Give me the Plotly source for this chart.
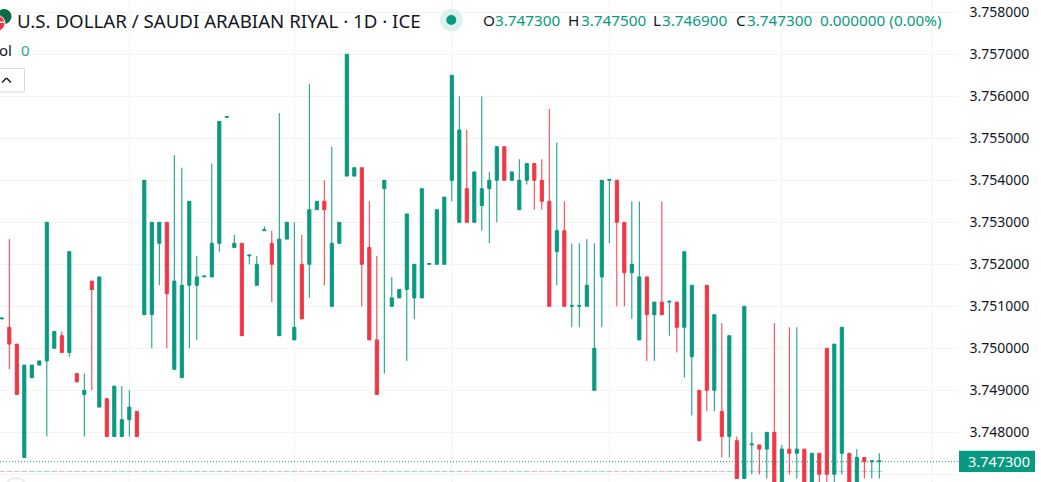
import plotly.graph_objects as go

W, H = 1041, 482
GREEN = "#089981"
RED = "#F23645"
GRID = "#f3f3f3"
TEXT = "#131722"

# daily bars
opens = [3.7507, 3.7505, 3.7501, 3.7474, 3.7493, 3.7496, 3.7497, 3.7500, 3.7503, 3.7499,
         3.7494, 3.7489, 3.7516, 3.7486, 3.7488, 3.7479, 3.7479, 3.7483, 3.7485, 3.7508,
         3.7508, 3.7525, 3.7530, 3.7495, 3.7493, 3.7515, 3.7515, 3.7517, 3.7517, 3.7525,
         3.7555, 3.7524, 3.7525, 3.7522, 3.7515, 3.7528, 3.7525, 3.7503, 3.7526, 3.7502,
         3.7520, 3.7520, 3.7533, 3.7535, 3.7510, 3.7525, 3.7541, 3.7541, 3.7543, 3.7524,
         3.7502, 3.7538, 3.7510, 3.7512, 3.7514, 3.7512, 3.7512, 3.7520, 3.7520, 3.7520,
         3.7540, 3.7530, 3.7538, 3.7530, 3.7534, 3.7538, 3.7540, 3.7548, 3.7540, 3.7533,
         3.7540, 3.7544, 3.7540, 3.7535, 3.7523, 3.7528, 3.7510, 3.7510, 3.7510, 3.7490,
         3.7517, 3.7540, 3.7540, 3.7530, 3.7518, 3.7502, 3.7517, 3.7508, 3.7511, 3.7511,
         3.7511, 3.7505, 3.7498, 3.7490, 3.7515, 3.7490, 3.7485, 3.7479, 3.7478, 3.7469,
         3.7477, 3.7477, 3.7476, 3.7480, 3.7468, 3.7476, 3.7475, 3.7476, 3.7468, 3.7475,
         3.7500, 3.7470, 3.7475, 3.7475, 3.7468, 3.7474, 3.7473, 3.7473]
highs = [3.75072, 3.7526, 3.7501, 3.7496, 3.7496, 3.7497, 3.7530, 3.7504, 3.7504, 3.7523,
         3.7494, 3.7494, 3.7516, 3.7517, 3.7488, 3.7491, 3.7491, 3.7490, 3.7485, 3.7540,
         3.7530, 3.7530, 3.7530, 3.7546, 3.7543, 3.7535, 3.7522, 3.75172, 3.7544, 3.7554,
         3.75552, 3.7527, 3.7525, 3.75222, 3.7522, 3.7529, 3.7528, 3.7556, 3.7530, 3.7530,
         3.7527, 3.7563, 3.7535, 3.7540, 3.7548, 3.7530, 3.7570, 3.7543, 3.7543, 3.7535,
         3.7522, 3.7540, 3.7517, 3.7514, 3.7532, 3.7520, 3.7538, 3.75202, 3.7533, 3.7536,
         3.7565, 3.7560, 3.7552, 3.7542, 3.7560, 3.7542, 3.7548, 3.7548, 3.7542, 3.7545,
         3.7544, 3.7544, 3.7545, 3.7557, 3.7549, 3.7535, 3.7525, 3.7525, 3.7526, 3.7525,
         3.7540, 3.75402, 3.7540, 3.7530, 3.7535, 3.7535, 3.7517, 3.7511, 3.7535, 3.75112,
         3.7511, 3.7523, 3.7515, 3.7490, 3.7515, 3.7508, 3.7506, 3.7503, 3.7479, 3.7510,
         3.7480, 3.7477, 3.7480, 3.7506, 3.7477, 3.7505, 3.7505, 3.7476, 3.7475, 3.7475,
         3.7500, 3.7501, 3.7505, 3.7475, 3.7476, 3.7474, 3.74732, 3.7475]
lows = [3.7507, 3.7495, 3.7489, 3.7474, 3.7493, 3.7496, 3.7479, 3.7500, 3.7499, 3.7498,
        3.7492, 3.7479, 3.7490, 3.7486, 3.7479, 3.7479, 3.7479, 3.7479, 3.7479, 3.7508,
        3.7500, 3.7515, 3.7500, 3.7495, 3.7493, 3.7500, 3.7502, 3.7517, 3.7517, 3.7523,
        3.7555, 3.7524, 3.7503, 3.7520, 3.7515, 3.7528, 3.7511, 3.7503, 3.7526, 3.7502,
        3.7507, 3.7512, 3.7533, 3.7515, 3.7510, 3.7525, 3.7541, 3.7541, 3.7510, 3.7502,
        3.7489, 3.7494, 3.7510, 3.7512, 3.7497, 3.7507, 3.7512, 3.7520, 3.7520, 3.7520,
        3.7535, 3.7530, 3.7530, 3.7530, 3.7528, 3.7525, 3.7530, 3.7540, 3.7540, 3.7533,
        3.7539, 3.7533, 3.7533, 3.7510, 3.7515, 3.7510, 3.7505, 3.7505, 3.7510, 3.7490,
        3.7505, 3.7525, 3.7510, 3.7510, 3.7507, 3.7502, 3.7497, 3.7497, 3.7508, 3.7503,
        3.7499, 3.7493, 3.7484, 3.7478, 3.7485, 3.7485, 3.7474, 3.7474, 3.7469, 3.7469,
        3.7470, 3.7470, 3.7469, 3.7468, 3.7468, 3.7470, 3.7469, 3.7468, 3.7468, 3.7468,
        3.7468, 3.7468, 3.7470, 3.7468, 3.7468, 3.7469, 3.7469, 3.7469]
closes = [3.75072, 3.7501, 3.7489, 3.7496, 3.7496, 3.7497, 3.7530, 3.7504, 3.7499, 3.7523,
          3.7492, 3.7490, 3.7514, 3.7517, 3.7479, 3.7491, 3.7483, 3.7486, 3.7479, 3.7540,
          3.7530, 3.7530, 3.7513, 3.7516, 3.7515, 3.7535, 3.7517, 3.75172, 3.7525, 3.7554,
          3.75552, 3.7525, 3.7503, 3.75222, 3.7520, 3.75282, 3.7520, 3.7526, 3.7530, 3.7505,
          3.7507, 3.7533, 3.7535, 3.7533, 3.7525, 3.7530, 3.7570, 3.7543, 3.7520, 3.7502,
          3.7489, 3.7540, 3.7512, 3.7514, 3.7532, 3.7520, 3.7538, 3.75202, 3.7533, 3.7536,
          3.7565, 3.7552, 3.7530, 3.7542, 3.7538, 3.7540, 3.7548, 3.7540, 3.7542, 3.7540,
          3.7544, 3.7540, 3.7535, 3.7510, 3.7528, 3.7510, 3.75102, 3.75102, 3.7515, 3.7500,
          3.7540, 3.75402, 3.7530, 3.7518, 3.7520, 3.7517, 3.7508, 3.7511, 3.7508, 3.75112,
          3.7505, 3.7523, 3.7515, 3.7478, 3.7490, 3.7508, 3.7479, 3.7503, 3.7469, 3.7510,
          3.74772, 3.7476, 3.7480, 3.7468, 3.7476, 3.7475, 3.7476, 3.7468, 3.7475, 3.7470,
          3.7470, 3.7501, 3.7505, 3.7468, 3.7474, 3.7473, 3.74732, 3.74732]

price_ticks = [3.758, 3.757, 3.756, 3.755, 3.754, 3.753, 3.752, 3.751, 3.750, 3.749, 3.748, 3.747]
time_grid = [17, 39, 60, 81, 104, 124]
last_price = 3.7473
volume_level = 3.74707
volumes_y = [volume_level] * len(opens)

header_parts = [
    ("O", 483, TEXT), ("3.747300", 495.5, GREEN),
    ("H", 568.5, TEXT), ("3.747500", 581, GREEN),
    ("L", 653, TEXT), ("3.746900", 662.5, GREEN),
    ("C", 736, TEXT), ("3.747300", 747, GREEN),
    ("0.000000 (0.00%)", 820, GREEN),
]


def px(x):
    return x / W


def py(y):
    return 1 - y / H


def note(text, x, y, color=TEXT, size=14, anchor="left"):
    return dict(text=text, x=px(x), y=py(y), xref="paper", yref="paper", xanchor=anchor,
                yanchor="middle", showarrow=False, align="left",
                xshift=-2.5 if anchor == "left" else 2.5,
                font=dict(family="Noto Sans", size=size, color=color))


def box(x0, y0, x1, y1, **kw):
    return dict(x0=px(x0), x1=px(x1), y0=py(y0), y1=py(y1), xref="paper", yref="paper", **kw)


bar_x = list(range(len(opens)))

fig = go.Figure()
fig.add_trace(go.Scatter(
    x=bar_x, y=volumes_y, mode="markers", hoverinfo="skip",
    marker=dict(symbol="line-ew", size=4.2, color="rgba(0,0,0,0)", line=dict(
        width=1,
        color=["rgba(8,153,129,0.42)" if c >= o else "rgba(242,54,69,0.42)"
               for o, c in zip(opens, closes)])),
))
fig.add_trace(go.Candlestick(
    x=bar_x, open=opens, high=highs, low=lows, close=closes, whiskerwidth=0,
    increasing=dict(line=dict(color=GREEN, width=1), fillcolor=GREEN),
    decreasing=dict(line=dict(color=RED, width=1), fillcolor=RED),
))

fig.update_layout(
    width=W, height=H, margin=dict(l=0, r=0, t=0, b=0), autosize=False,
    plot_bgcolor="white", paper_bgcolor="white", showlegend=False, boxgap=0.41,
    xaxis=dict(domain=[0, 957.7 / W], range=[-0.24, 127.45], rangeslider=dict(visible=False),
               tickvals=time_grid, showticklabels=False, ticks="", gridcolor=GRID,
               gridwidth=1, zeroline=False, showline=False),
    yaxis=dict(side="right", range=[3.746817, 3.758293], tickvals=price_ticks,
               ticktext=[f"{t:.6f}" for t in price_ticks], gridcolor=GRID, gridwidth=1,
               zeroline=False, showline=False, ticks="outside", ticklen=8, tickcolor="white",
               tickfont=dict(family="Noto Sans", size=14, color=TEXT)),
    shapes=[
        dict(type="line", xref="x domain", yref="y", x0=0, x1=1, y0=last_price, y1=last_price,
             line=dict(color=GREEN, width=1, dash="1px,2px")),
        box(959, 450.7, 1035, 472, type="rect", fillcolor=GREEN, line=dict(width=0)),
        box(440, 8.7, 462.6, 31.3, type="circle", fillcolor="#dcf1ed", line=dict(width=0)),
        box(446.3, 15, 456.3, 25, type="circle", fillcolor=GREEN, line=dict(width=0)),
        box(-3, 9, 11.5, 24, type="circle", fillcolor="#0b6b45", line=dict(width=0)),
        box(-10, 15.5, 5, 31, type="circle", fillcolor=RED, line=dict(color="white", width=1)),
        box(-10, 21.5, 4, 23, type="rect", fillcolor="white", line=dict(width=0)),
        box(-5, 68.5, 24.5, 92, type="rect", fillcolor="white", line=dict(color="#dadada", width=1)),
        box(2, 82.5, 6.5, 78, type="line", line=dict(color=TEXT, width=1.4)),
        box(6.5, 78, 11, 82.5, type="line", line=dict(color=TEXT, width=1.4)),
        box(5, 478, 27, 500, type="circle", line=dict(color="#eeeeee", width=2)),
    ],
    annotations=[
        note("U.S. DOLLAR / SAUDI ARABIAN RIYAL · 1D · ICE", 17, 21, size=18.7),
        note("ol", 11, 50.5, size=15, anchor="right"),
        note("0", 21, 50.5, color="#26a69a", size=15),
        note("3.747300", 968.5, 461, color="white", size=14.5),
    ] + [note(t, x, 20.5, color=c, size=15.3) for t, x, c in header_parts],
)

fig.write_html("out.html", config=dict(displayModeBar=False),
               post_script="document.body.style.margin='0';")
